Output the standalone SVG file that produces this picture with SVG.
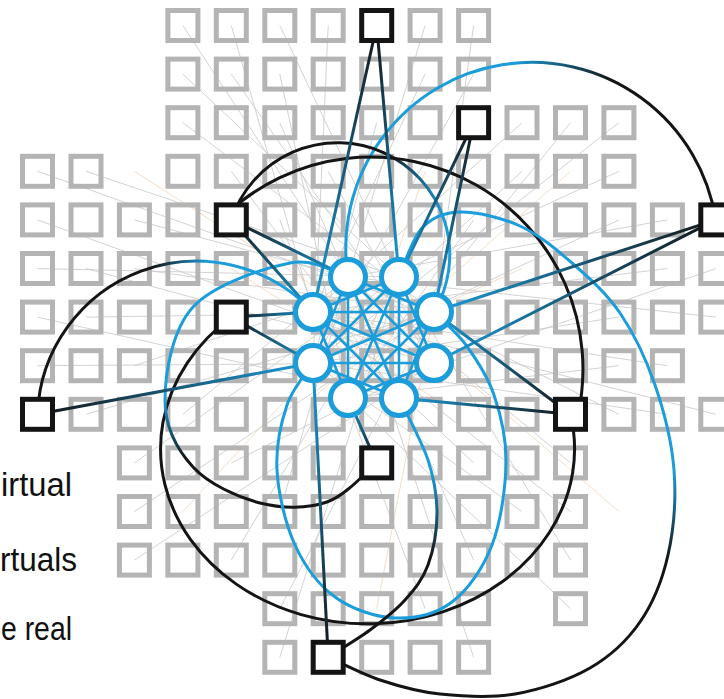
<svg xmlns="http://www.w3.org/2000/svg" width="724" height="699" viewBox="0 0 724 699">
<style>
.sq{fill:none;stroke:#b4b4b4;stroke-width:5}
.bn{fill:#fff;stroke:#141414;stroke-width:5}
.vn{fill:#fff;stroke:#1c9ddb;stroke-width:5}
.bg{stroke:#cbcbcb;stroke-width:1;fill:none;opacity:.85}
.bo{stroke:#f0c8a0;stroke-width:1;fill:none;opacity:.6}
.e{fill:none;stroke-width:3}
.c{fill:none;stroke-width:2.5}
.blue{stroke:#1c9ddb}
.blk{stroke:#141414}
.t{font-family:"Liberation Sans",Arial,sans-serif;font-size:33px;fill:#111}
</style>
<defs>
<linearGradient id="kb"><stop offset="0" stop-color="#141414"/><stop offset="1" stop-color="#1c9ddb"/></linearGradient>
<linearGradient id="gA7" href="#kb" gradientUnits="userSpaceOnUse" x1="376.7" y1="25.5" x2="313" y2="312"/>
<linearGradient id="gA1" href="#kb" gradientUnits="userSpaceOnUse" x1="376.7" y1="25.5" x2="399" y2="277"/>
<linearGradient id="gB1" href="#kb" gradientUnits="userSpaceOnUse" x1="473.6" y1="122.7" x2="399" y2="277"/>
<linearGradient id="gB2" href="#kb" gradientUnits="userSpaceOnUse" x1="473.6" y1="122.7" x2="434" y2="312"/>
<linearGradient id="gC0" href="#kb" gradientUnits="userSpaceOnUse" x1="231.3" y1="219.9" x2="348" y2="277"/>
<linearGradient id="gC7" href="#kb" gradientUnits="userSpaceOnUse" x1="231.3" y1="219.9" x2="313" y2="312"/>
<linearGradient id="gD2" href="#kb" gradientUnits="userSpaceOnUse" x1="715.8" y1="219.9" x2="434" y2="312"/>
<linearGradient id="gD3" href="#kb" gradientUnits="userSpaceOnUse" x1="715.8" y1="219.9" x2="434" y2="363"/>
<linearGradient id="gE7" href="#kb" gradientUnits="userSpaceOnUse" x1="231.3" y1="317.1" x2="313" y2="312"/>
<linearGradient id="gE6" href="#kb" gradientUnits="userSpaceOnUse" x1="231.3" y1="317.1" x2="313" y2="363"/>
<linearGradient id="gF6" href="#kb" gradientUnits="userSpaceOnUse" x1="37.5" y1="414.3" x2="313" y2="363"/>
<linearGradient id="gG2" href="#kb" gradientUnits="userSpaceOnUse" x1="570.5" y1="414.3" x2="434" y2="312"/>
<linearGradient id="gG4" href="#kb" gradientUnits="userSpaceOnUse" x1="570.5" y1="414.3" x2="399" y2="398"/>
<linearGradient id="gH5" href="#kb" gradientUnits="userSpaceOnUse" x1="376.7" y1="462.9" x2="348" y2="398"/>
<linearGradient id="gI6" href="#kb" gradientUnits="userSpaceOnUse" x1="328.2" y1="657.3" x2="313" y2="363"/>
<linearGradient id="g1" gradientUnits="userSpaceOnUse" x1="348" y1="0" x2="716" y2="0"><stop offset="0" stop-color="#1c9ddb"/><stop offset="0.45" stop-color="#1c9ddb"/><stop offset="0.72" stop-color="#141414"/></linearGradient>
<linearGradient id="g2" gradientUnits="userSpaceOnUse" x1="231" y1="0" x2="445" y2="0"><stop offset="0" stop-color="#141414"/><stop offset="0.72" stop-color="#141414"/><stop offset="1" stop-color="#1c9ddb"/></linearGradient>
<linearGradient id="g3" gradientUnits="userSpaceOnUse" x1="37" y1="0" x2="313" y2="0"><stop offset="0" stop-color="#141414"/><stop offset="0.42" stop-color="#141414"/><stop offset="0.62" stop-color="#1c9ddb"/></linearGradient>
<linearGradient id="g5" gradientUnits="userSpaceOnUse" x1="0" y1="400" x2="0" y2="460"><stop offset="0" stop-color="#1c9ddb"/><stop offset="1" stop-color="#141414"/></linearGradient>
<linearGradient id="g6" gradientUnits="userSpaceOnUse" x1="0" y1="470" x2="0" y2="560"><stop offset="0" stop-color="#1c9ddb"/><stop offset="1" stop-color="#141414"/></linearGradient>
</defs>
<rect width="724" height="699" fill="#fff"/>
<g id="background-links">
<path class="bg" d="M182.9 25.5L348 277M231.3 25.5L313 312M279.8 25.5L399 277M328.2 25.5L313 363M425.1 25.5L348 277M473.6 25.5L434 312M182.9 74.1L399 277M231.3 74.1L434 363M279.8 74.1L348 398M425.1 74.1L313 312M473.6 74.1L313 363M182.9 122.7L434 312M279.8 122.7L399 398M376.7 122.7L313 363M522 122.7L313 312M570.5 122.7L348 398M618.9 122.7L313 363M37.5 171.3L434 312M86 171.3L399 277M231.3 171.3L399 398M328.2 171.3L434 363M522 171.3L313 363M618.9 171.3L313 312M37.5 219.9L434 363M134.4 219.9L348 277M279.8 219.9L348 398M473.6 219.9L348 398M618.9 219.9L313 363M667.4 219.9L348 277M37.5 268.5L399 277M86 268.5L434 363M134.4 268.5L434 312M667.4 268.5L313 312M715.8 268.5L348 398M37.5 317.1L399 398M86 317.1L434 312M618.9 317.1L313 363M715.8 317.1L348 277M37.5 365.7L434 363M134.4 365.7L399 277M667.4 365.7L313 312M618.9 365.7L348 398M86 414.3L434 312M182.9 414.3L348 277M667.4 414.3L313 363M715.8 414.3L313 312M618.9 414.3L348 277M134.4 462.9L399 277M231.3 462.9L434 363M473.6 462.9L313 312M570.5 462.9L348 277M134.4 511.5L434 312M279.8 511.5L348 277M522 511.5L313 363M570.5 511.5L313 312M134.4 560.1L434 363M231.3 560.1L399 277M473.6 560.1L348 277M570.5 560.1L399 277M279.8 608.7L434 312M425.1 608.7L313 312M570.5 608.7L313 363M279.8 657.3L399 277M473.6 657.3L348 277"/>
<path class="bo" d="M134.4 171.3L434 363M425.1 171.3L348 398M522 268.5L313 363M182.9 511.5L399 277M618.9 511.5L348 277M376.7 608.7L434 312M231.3 268.5L434 398M570.5 171.3L313 398"/>
</g>
<g id="grid">
<rect class="sq" x="167.9" y="10.5" width="30" height="30"/><rect class="sq" x="216.3" y="10.5" width="30" height="30"/><rect class="sq" x="264.8" y="10.5" width="30" height="30"/><rect class="sq" x="313.2" y="10.5" width="30" height="30"/><rect class="sq" x="410.1" y="10.5" width="30" height="30"/><rect class="sq" x="458.6" y="10.5" width="30" height="30"/>
<rect class="sq" x="167.9" y="59.1" width="30" height="30"/><rect class="sq" x="216.3" y="59.1" width="30" height="30"/><rect class="sq" x="264.8" y="59.1" width="30" height="30"/><rect class="sq" x="313.2" y="59.1" width="30" height="30"/><rect class="sq" x="361.7" y="59.1" width="30" height="30"/><rect class="sq" x="410.1" y="59.1" width="30" height="30"/><rect class="sq" x="458.6" y="59.1" width="30" height="30"/>
<rect class="sq" x="167.9" y="107.7" width="30" height="30"/><rect class="sq" x="216.3" y="107.7" width="30" height="30"/><rect class="sq" x="264.8" y="107.7" width="30" height="30"/><rect class="sq" x="313.2" y="107.7" width="30" height="30"/><rect class="sq" x="361.7" y="107.7" width="30" height="30"/><rect class="sq" x="410.1" y="107.7" width="30" height="30"/><rect class="sq" x="507" y="107.7" width="30" height="30"/><rect class="sq" x="555.5" y="107.7" width="30" height="30"/><rect class="sq" x="603.9" y="107.7" width="30" height="30"/>
<rect class="sq" x="22.5" y="156.3" width="30" height="30"/><rect class="sq" x="71" y="156.3" width="30" height="30"/><rect class="sq" x="167.9" y="156.3" width="30" height="30"/><rect class="sq" x="216.3" y="156.3" width="30" height="30"/><rect class="sq" x="264.8" y="156.3" width="30" height="30"/><rect class="sq" x="313.2" y="156.3" width="30" height="30"/><rect class="sq" x="361.7" y="156.3" width="30" height="30"/><rect class="sq" x="410.1" y="156.3" width="30" height="30"/><rect class="sq" x="458.6" y="156.3" width="30" height="30"/><rect class="sq" x="507" y="156.3" width="30" height="30"/><rect class="sq" x="555.5" y="156.3" width="30" height="30"/><rect class="sq" x="603.9" y="156.3" width="30" height="30"/>
<rect class="sq" x="22.5" y="204.9" width="30" height="30"/><rect class="sq" x="71" y="204.9" width="30" height="30"/><rect class="sq" x="119.4" y="204.9" width="30" height="30"/><rect class="sq" x="167.9" y="204.9" width="30" height="30"/><rect class="sq" x="264.8" y="204.9" width="30" height="30"/><rect class="sq" x="313.2" y="204.9" width="30" height="30"/><rect class="sq" x="361.7" y="204.9" width="30" height="30"/><rect class="sq" x="410.1" y="204.9" width="30" height="30"/><rect class="sq" x="458.6" y="204.9" width="30" height="30"/><rect class="sq" x="507" y="204.9" width="30" height="30"/><rect class="sq" x="555.5" y="204.9" width="30" height="30"/><rect class="sq" x="603.9" y="204.9" width="30" height="30"/><rect class="sq" x="652.4" y="204.9" width="30" height="30"/>
<rect class="sq" x="22.5" y="253.5" width="30" height="30"/><rect class="sq" x="71" y="253.5" width="30" height="30"/><rect class="sq" x="119.4" y="253.5" width="30" height="30"/><rect class="sq" x="167.9" y="253.5" width="30" height="30"/><rect class="sq" x="216.3" y="253.5" width="30" height="30"/><rect class="sq" x="264.8" y="253.5" width="30" height="30"/><rect class="sq" x="313.2" y="253.5" width="30" height="30"/><rect class="sq" x="361.7" y="253.5" width="30" height="30"/><rect class="sq" x="410.1" y="253.5" width="30" height="30"/><rect class="sq" x="458.6" y="253.5" width="30" height="30"/><rect class="sq" x="507" y="253.5" width="30" height="30"/><rect class="sq" x="555.5" y="253.5" width="30" height="30"/><rect class="sq" x="603.9" y="253.5" width="30" height="30"/><rect class="sq" x="652.4" y="253.5" width="30" height="30"/><rect class="sq" x="700.8" y="253.5" width="30" height="30"/>
<rect class="sq" x="22.5" y="302.1" width="30" height="30"/><rect class="sq" x="71" y="302.1" width="30" height="30"/><rect class="sq" x="119.4" y="302.1" width="30" height="30"/><rect class="sq" x="167.9" y="302.1" width="30" height="30"/><rect class="sq" x="264.8" y="302.1" width="30" height="30"/><rect class="sq" x="313.2" y="302.1" width="30" height="30"/><rect class="sq" x="361.7" y="302.1" width="30" height="30"/><rect class="sq" x="410.1" y="302.1" width="30" height="30"/><rect class="sq" x="458.6" y="302.1" width="30" height="30"/><rect class="sq" x="507" y="302.1" width="30" height="30"/><rect class="sq" x="555.5" y="302.1" width="30" height="30"/><rect class="sq" x="603.9" y="302.1" width="30" height="30"/><rect class="sq" x="652.4" y="302.1" width="30" height="30"/><rect class="sq" x="700.8" y="302.1" width="30" height="30"/>
<rect class="sq" x="22.5" y="350.7" width="30" height="30"/><rect class="sq" x="71" y="350.7" width="30" height="30"/><rect class="sq" x="119.4" y="350.7" width="30" height="30"/><rect class="sq" x="167.9" y="350.7" width="30" height="30"/><rect class="sq" x="216.3" y="350.7" width="30" height="30"/><rect class="sq" x="264.8" y="350.7" width="30" height="30"/><rect class="sq" x="313.2" y="350.7" width="30" height="30"/><rect class="sq" x="361.7" y="350.7" width="30" height="30"/><rect class="sq" x="410.1" y="350.7" width="30" height="30"/><rect class="sq" x="458.6" y="350.7" width="30" height="30"/><rect class="sq" x="507" y="350.7" width="30" height="30"/><rect class="sq" x="555.5" y="350.7" width="30" height="30"/><rect class="sq" x="603.9" y="350.7" width="30" height="30"/><rect class="sq" x="652.4" y="350.7" width="30" height="30"/>
<rect class="sq" x="71" y="399.3" width="30" height="30"/><rect class="sq" x="119.4" y="399.3" width="30" height="30"/><rect class="sq" x="167.9" y="399.3" width="30" height="30"/><rect class="sq" x="216.3" y="399.3" width="30" height="30"/><rect class="sq" x="264.8" y="399.3" width="30" height="30"/><rect class="sq" x="313.2" y="399.3" width="30" height="30"/><rect class="sq" x="361.7" y="399.3" width="30" height="30"/><rect class="sq" x="410.1" y="399.3" width="30" height="30"/><rect class="sq" x="458.6" y="399.3" width="30" height="30"/><rect class="sq" x="507" y="399.3" width="30" height="30"/><rect class="sq" x="603.9" y="399.3" width="30" height="30"/><rect class="sq" x="652.4" y="399.3" width="30" height="30"/><rect class="sq" x="700.8" y="399.3" width="30" height="30"/>
<rect class="sq" x="119.4" y="447.9" width="30" height="30"/><rect class="sq" x="167.9" y="447.9" width="30" height="30"/><rect class="sq" x="216.3" y="447.9" width="30" height="30"/><rect class="sq" x="264.8" y="447.9" width="30" height="30"/><rect class="sq" x="313.2" y="447.9" width="30" height="30"/><rect class="sq" x="410.1" y="447.9" width="30" height="30"/><rect class="sq" x="458.6" y="447.9" width="30" height="30"/><rect class="sq" x="507" y="447.9" width="30" height="30"/><rect class="sq" x="555.5" y="447.9" width="30" height="30"/>
<rect class="sq" x="119.4" y="496.5" width="30" height="30"/><rect class="sq" x="167.9" y="496.5" width="30" height="30"/><rect class="sq" x="216.3" y="496.5" width="30" height="30"/><rect class="sq" x="264.8" y="496.5" width="30" height="30"/><rect class="sq" x="313.2" y="496.5" width="30" height="30"/><rect class="sq" x="361.7" y="496.5" width="30" height="30"/><rect class="sq" x="410.1" y="496.5" width="30" height="30"/><rect class="sq" x="458.6" y="496.5" width="30" height="30"/><rect class="sq" x="507" y="496.5" width="30" height="30"/><rect class="sq" x="555.5" y="496.5" width="30" height="30"/>
<rect class="sq" x="119.4" y="545.1" width="30" height="30"/><rect class="sq" x="167.9" y="545.1" width="30" height="30"/><rect class="sq" x="216.3" y="545.1" width="30" height="30"/><rect class="sq" x="264.8" y="545.1" width="30" height="30"/><rect class="sq" x="313.2" y="545.1" width="30" height="30"/><rect class="sq" x="361.7" y="545.1" width="30" height="30"/><rect class="sq" x="410.1" y="545.1" width="30" height="30"/><rect class="sq" x="458.6" y="545.1" width="30" height="30"/><rect class="sq" x="507" y="545.1" width="30" height="30"/><rect class="sq" x="555.5" y="545.1" width="30" height="30"/>
<rect class="sq" x="264.8" y="593.7" width="30" height="30"/><rect class="sq" x="313.2" y="593.7" width="30" height="30"/><rect class="sq" x="361.7" y="593.7" width="30" height="30"/><rect class="sq" x="410.1" y="593.7" width="30" height="30"/><rect class="sq" x="458.6" y="593.7" width="30" height="30"/><rect class="sq" x="555.5" y="593.7" width="30" height="30"/>
<rect class="sq" x="264.8" y="642.3" width="30" height="30"/><rect class="sq" x="361.7" y="642.3" width="30" height="30"/><rect class="sq" x="410.1" y="642.3" width="30" height="30"/><rect class="sq" x="458.6" y="642.3" width="30" height="30"/>
</g>
<g id="connectors">
<path class="c blue" d="M348 277L434 312M348 277L434 363M348 277L399 398M348 277L348 398M348 277L313 363M399 277L434 363M399 277L399 398M399 277L348 398M399 277L313 363M399 277L313 312M434 312L399 398M434 312L348 398M434 312L313 363M434 312L313 312M434 363L348 398M434 363L313 363M434 363L313 312M399 398L313 363M399 398L313 312M348 398L313 312"/>
<path class="e" stroke="url(#g1)" d="M348 277A186 186 0 1 1 715.8 219.9"/>
<path class="e" stroke="url(#g2)" d="M231.3 219.9A112 112 0 1 1 434 312"/>
<path class="e blk" d="M225.8 214.5A212 212 0 0 1 577.7 415.9"/>
<path class="e" stroke="url(#g3)" d="M37.5 414.3A159 159 0 0 1 313 312"/>
<path class="e blk" d="M231.3 317.1A207 175 0 1 0 570.5 414.3"/>
<path class="e" stroke="url(#g5)" d="M348 277C338.3 274.7 315.8 258 290 263S213.8 284.2 193 307S165 373.3 165 400S177.2 449.8 193 467S237.7 497.2 260 503S307.5 508.7 327 502S368.4 469.4 376.7 462.9"/>
<path class="e" stroke="url(#g6)" d="M399 277C402.8 268.8 411.8 238.8 422 228S443.7 212.3 460 212S501.3 217.5 520 226S555.3 248.5 572 263S606.2 292.7 620 313S646 358.8 655 385S671.8 441.7 674 470S673.7 529.7 668 555S653 603.2 640 622S610.8 656 590 668S540 689.7 515 694S462.5 696.3 440 694S398.7 686.2 380 680S336.7 660.8 328 657"/>
<path class="e blue" d="M313 363C308.7 370 293 387.2 287 405S275.7 446.7 277 470S285.3 523.8 295 545S318.3 584.8 335 597S375.5 617.2 395 618S435.8 614.2 452 602S483 568.3 492 545S505.7 487 506 462S500.7 414.5 494 395S476 358.8 466 345S439.3 317.5 434 312"/>
<path class="e" stroke="url(#g6)" d="M328 657C335 652.5 357.2 639.5 370 630S395.3 610.8 405 600S422.7 579.5 428 565S437 530.5 437 513S434.3 479.2 428 460S403.8 408.3 399 398"/>
<line class="e" stroke="url(#gA7)" x1="376.7" y1="25.5" x2="313" y2="312"/>
<line class="e" stroke="url(#gA1)" x1="376.7" y1="25.5" x2="399" y2="277"/>
<line class="e" stroke="url(#gB1)" x1="473.6" y1="122.7" x2="399" y2="277"/>
<line class="e" stroke="url(#gB2)" x1="473.6" y1="122.7" x2="434" y2="312"/>
<line class="e" stroke="url(#gC0)" x1="231.3" y1="219.9" x2="348" y2="277"/>
<line class="e" stroke="url(#gC7)" x1="231.3" y1="219.9" x2="313" y2="312"/>
<line class="e" stroke="url(#gD2)" x1="715.8" y1="219.9" x2="434" y2="312"/>
<line class="e" stroke="url(#gD3)" x1="715.8" y1="219.9" x2="434" y2="363"/>
<line class="e" stroke="url(#gE7)" x1="231.3" y1="317.1" x2="313" y2="312"/>
<line class="e" stroke="url(#gE6)" x1="231.3" y1="317.1" x2="313" y2="363"/>
<line class="e" stroke="url(#gF6)" x1="37.5" y1="414.3" x2="313" y2="363"/>
<line class="e" stroke="url(#gG2)" x1="570.5" y1="414.3" x2="434" y2="312"/>
<line class="e" stroke="url(#gG4)" x1="570.5" y1="414.3" x2="399" y2="398"/>
<line class="e" stroke="url(#gH5)" x1="376.7" y1="462.9" x2="348" y2="398"/>
<line class="e" stroke="url(#gI6)" x1="328.2" y1="657.3" x2="313" y2="363"/>
</g>
<g id="virtual-nodes">
<circle id="v0" class="vn" cx="348" cy="277" r="17.5"/>
<circle id="v1" class="vn" cx="399" cy="277" r="17.5"/>
<circle id="v2" class="vn" cx="434" cy="312" r="17.5"/>
<circle id="v3" class="vn" cx="434" cy="363" r="17.5"/>
<circle id="v4" class="vn" cx="399" cy="398" r="17.5"/>
<circle id="v5" class="vn" cx="348" cy="398" r="17.5"/>
<circle id="v6" class="vn" cx="313" cy="363" r="17.5"/>
<circle id="v7" class="vn" cx="313" cy="312" r="17.5"/>
</g>
<g id="real-nodes">
<rect id="nA" class="bn" x="361.7" y="10.5" width="30" height="30"/>
<rect id="nB" class="bn" x="458.6" y="107.7" width="30" height="30"/>
<rect id="nC" class="bn" x="216.3" y="204.9" width="30" height="30"/>
<rect id="nD" class="bn" x="700.8" y="204.9" width="30" height="30"/>
<rect id="nE" class="bn" x="216.3" y="302.1" width="30" height="30"/>
<rect id="nF" class="bn" x="22.5" y="399.3" width="30" height="30"/>
<rect id="nG" class="bn" x="555.5" y="399.3" width="30" height="30"/>
<rect id="nH" class="bn" x="361.7" y="447.9" width="30" height="30"/>
<rect id="nI" class="bn" x="313.2" y="642.3" width="30" height="30"/>
</g>
<g id="labels">
<text class="t" x="1" y="496" textLength="71" lengthAdjust="spacingAndGlyphs">irtual</text>
<text class="t" x="0" y="571" textLength="77" lengthAdjust="spacingAndGlyphs">rtuals</text>
<text class="t" x="1" y="640" textLength="71" lengthAdjust="spacingAndGlyphs">e real</text>
</g>
</svg>
